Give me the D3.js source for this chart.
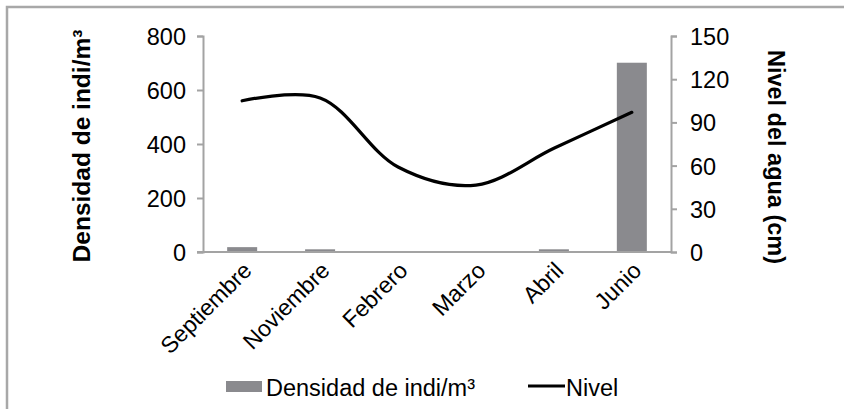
<!DOCTYPE html>
<html><head><meta charset="utf-8">
<script src="https://cdn.jsdelivr.net/npm/d3@7"></script>
<style>body{margin:0;background:#fff}svg{display:block}text{font-family:"Liberation Sans",Arial,sans-serif}</style>
</head><body><svg id="c" width="844" height="409"></svg>
<script>
const categories = ["Septiembre","Noviembre","Febrero","Marzo","Abril","Junio"];
const densidad = [18, 10, 3, 3, 10, 701];
const nivel = [105, 107, 59, 46.5, 72, 97];
const leftTicks = [0,200,400,600,800];
const rightTicks = [0,30,60,90,120,150];

const svg = d3.select("#c");
const L = 203, R = 671, T = 36, B = 252;
const axisColor = "#a3a3a3";

// frame
svg.append("path").attr("d","M7,420 L7,7 L850,7").attr("fill","none").attr("stroke","#a8a8a8").attr("stroke-width",2.5);

const x = d3.scaleBand().domain(categories).range([L,R]).paddingInner(0.615).paddingOuter(0.31);
const yL = d3.scaleLinear().domain([0,800]).range([B,T]);
const yR = d3.scaleLinear().domain([0,150]).range([B,T]);

// bars
svg.selectAll("rect.bar").data(densidad).enter().append("rect")
  .attr("x",(d,i)=>x(categories[i])).attr("width",x.bandwidth())
  .attr("y",d=>yL(d)).attr("height",d=>B-yL(d)).attr("fill","#8a8a8e");

const gl = svg.append("g").attr("transform",`translate(${L},0)`).call(d3.axisLeft(yL).tickValues(leftTicks).tickSize(6).tickPadding(11));
const gr = svg.append("g").attr("transform",`translate(${R},0)`).call(d3.axisRight(yR).tickValues(rightTicks).tickSize(6).tickPadding(13));
const gb = svg.append("g").attr("transform",`translate(0,${B})`).call(d3.axisBottom(x).tickSize(0).tickPadding(0));
[gl,gr,gb].forEach(g=>{g.select(".domain").attr("stroke",axisColor).attr("stroke-width",2);
  g.selectAll(".tick line").attr("stroke",axisColor).attr("stroke-width",2);
  g.selectAll("text").attr("fill","#000").style("font-family",'"Liberation Sans",Arial,sans-serif');});
gl.selectAll("text").style("font-size","23.5px").attr("dy","0.36em");
gr.selectAll("text").style("font-size","23.5px").attr("dy","0.36em");
gb.select(".domain").attr("d",`M${L-6},0H${R}`);
gb.selectAll(".tick text").style("font-size","23px").attr("text-anchor","end")
  .attr("dy","0").attr("y",0)
  .attr("transform","translate(11,20) rotate(-45)");

// line
const line = d3.line().x((d,i)=>x(categories[i])+x.bandwidth()/2).y(d=>yR(d)).curve(d3.curveCatmullRom.alpha(0.5));
svg.append("path").datum(nivel).attr("d",line).attr("fill","none").attr("stroke","#000").attr("stroke-width",3.2).attr("stroke-linecap","round");

// axis titles
svg.append("text").attr("transform","translate(90,146) rotate(-90)").attr("text-anchor","middle")
  .style("font-size","24.5px").style("font-weight","bold").text("Densidad de indi/m³");
svg.append("text").attr("transform","translate(768,157) rotate(90)").attr("text-anchor","middle")
  .style("font-size","23.5px").style("font-weight","bold").text("Nivel del agua (cm)");

// legend
svg.append("rect").attr("x",226).attr("y",381).attr("width",36).attr("height",11).attr("fill","#8a8a8e");
svg.append("text").attr("x",266).attr("y",396).style("font-size","23.5px").text("Densidad de indi/m³");
svg.append("line").attr("x1",528).attr("x2",565).attr("y1",386).attr("y2",386).attr("stroke","#000").attr("stroke-width",3);
svg.append("text").attr("x",566).attr("y",396).style("font-size","23.5px").text("Nivel");
</script></body></html>
